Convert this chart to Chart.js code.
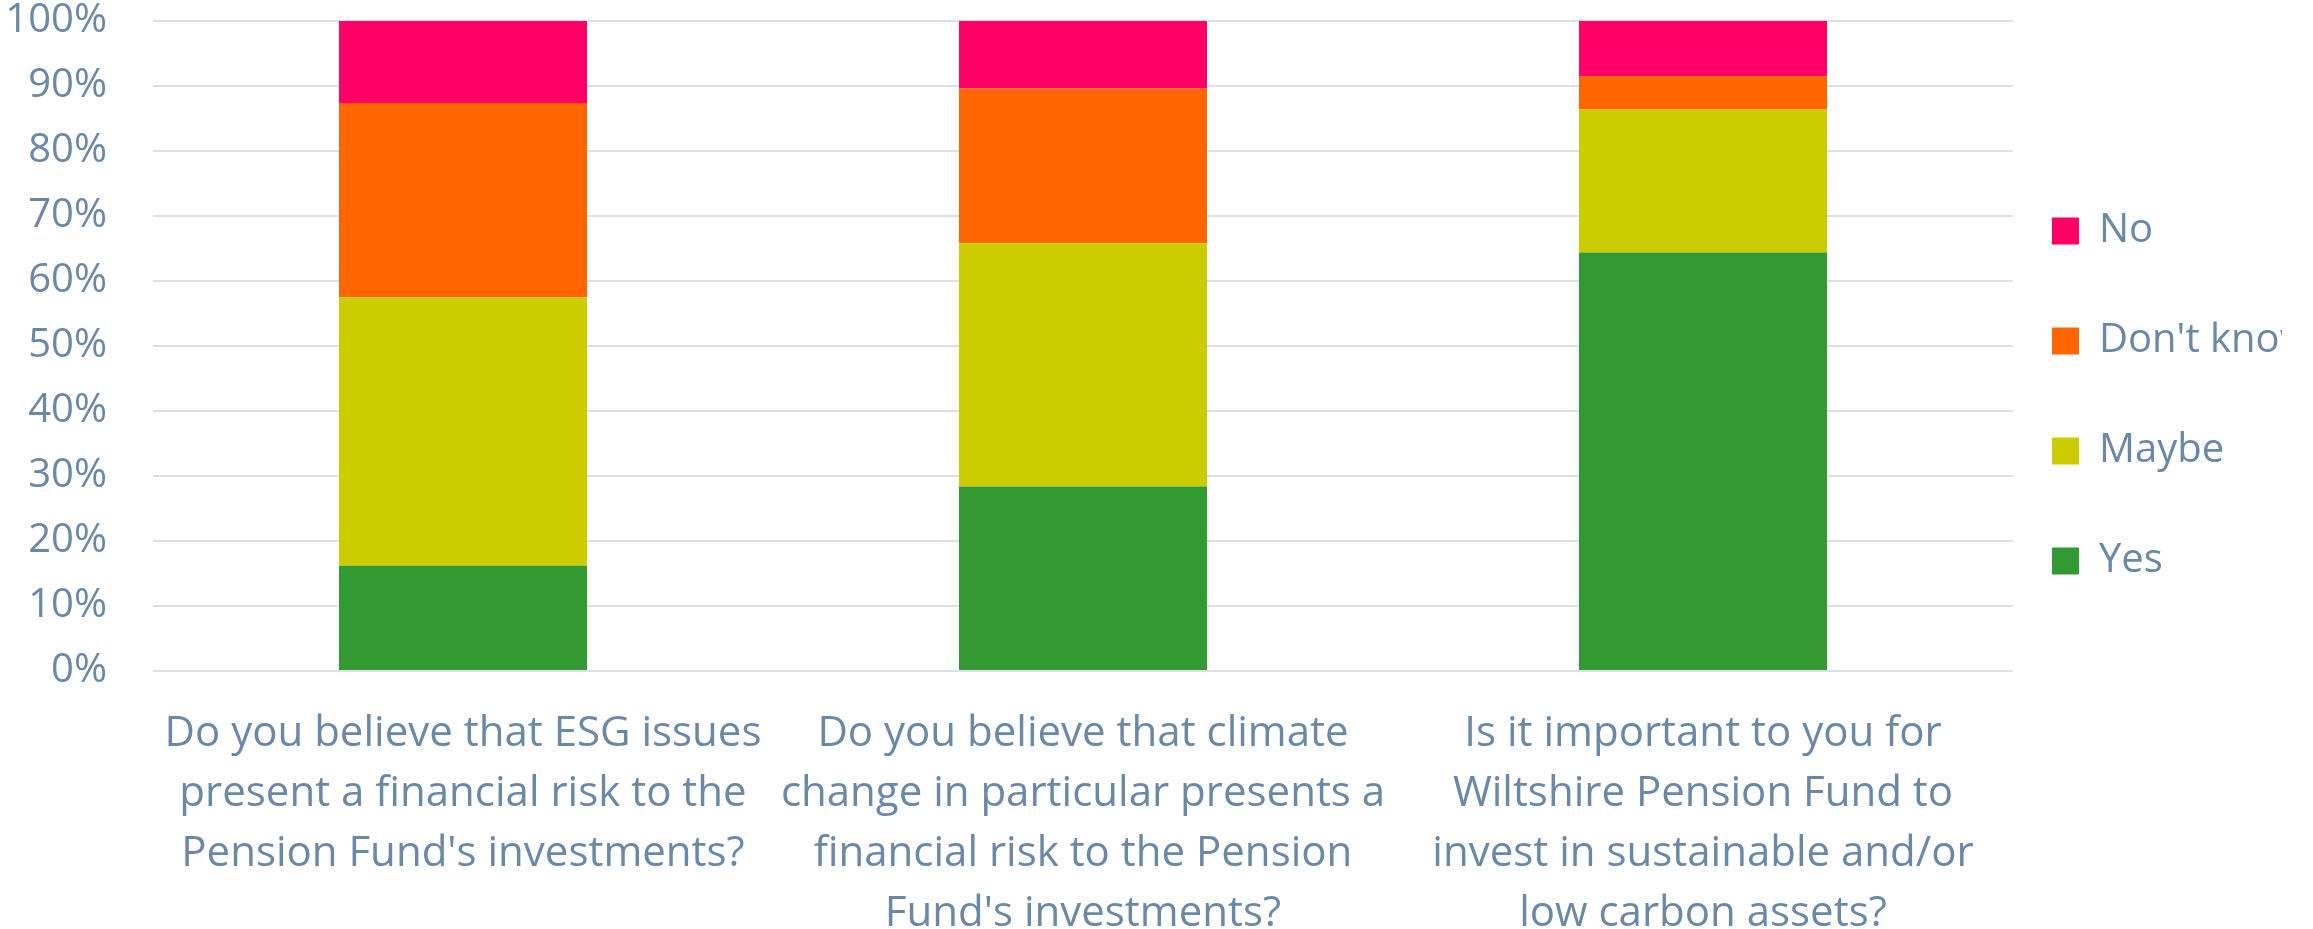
<!DOCTYPE html>
<html>
<head>
<meta charset="utf-8">
<script src="https://cdn.jsdelivr.net/npm/chart.js@4/dist/chart.umd.min.js"></script>
<style>
  html, body { margin: 0; padding: 0; background: #fff; overflow: hidden; }
  #wrap { width: 2313px; height: 929px; position: relative; }
</style>
</head>
<body>
<div id="wrap"><canvas id="surveyChart"></canvas></div>
<script>
// --- Data ---
const questions = [
    ['Do you believe that ESG issues', 'present a financial risk to the', "Pension Fund's investments?"],
    ['Do you believe that climate', 'change in particular presents a', 'financial risk to the Pension', "Fund's investments?"],
    ['Is it important to you for', 'Wiltshire Pension Fund to', 'invest in sustainable and/or', 'low carbon assets?']
];
const yesValues = [16.2, 28.4, 64.4];
const maybeValues = [41.3, 37.4, 22.0];
const dontKnowValues = [29.9, 23.8, 5.1];
const noValues = [12.6, 10.4, 8.5];
const yTicks = [0, 10, 20, 30, 40, 50, 60, 70, 80, 90, 100];

// --- Styles ---
const textColor = '#6A88A8';
const gridColor = '#DCE1E9';
const fontFamily = '"Open Sans", Lato, sans-serif';

// Legend sits a bit closer to the plot than Chart.js would put it
const legendPlacer = {
    id: 'legendPlacer',
    afterLayout(chart) {
        const lg = chart.legend;
        const pad = lg.options.labels.padding;
        const dx = (chart.chartArea.right + 39) - (lg.left + pad);
        lg.left += dx;
        lg.right += dx;
        lg.top = 211 - pad;
    }
};

const ctx = document.getElementById('surveyChart').getContext('2d');
new Chart(ctx, {
    type: 'bar',
    data: {
        labels: questions,
        datasets: [
            { label: 'Yes', data: yesValues, backgroundColor: '#339933' },
            { label: 'Maybe', data: maybeValues, backgroundColor: '#CCCC00' },
            { label: "Don't know", data: dontKnowValues, backgroundColor: '#FF6600' },
            { label: 'No', data: noValues, backgroundColor: '#FF0066' }
        ]
    },
    options: {
        responsive: true,
        maintainAspectRatio: false,
        animation: false,
        layout: { padding: { left: 0, top: 21, right: 0, bottom: 0 } },
        datasets: { bar: { categoryPercentage: 1.0, barPercentage: 0.4 } },
        scales: {
            x: {
                stacked: true,
                grid: { display: false, drawTicks: false },
                border: { display: false },
                afterFit: (scale) => {
                    scale.height = 258;
                    scale.paddingLeft = 0;
                    scale.paddingRight = 0;
                },
                ticks: {
                    color: textColor,
                    padding: 33,
                    maxRotation: 0,
                    autoSkip: false,
                    font: { family: fontFamily, size: 42, lineHeight: 1.43 }
                }
            },
            y: {
                stacked: true,
                min: 0,
                max: 100,
                afterBuildTicks: (axis) => { axis.ticks = yTicks.map(v => ({ value: v })); },
                afterFit: (scale) => {
                    scale.width = 153;
                    scale.paddingTop = 0;
                    scale.paddingBottom = 0;
                },
                grid: { color: gridColor, lineWidth: 2, drawTicks: false },
                border: { display: false },
                ticks: {
                    color: textColor,
                    padding: 46,
                    font: { family: fontFamily, size: 40 },
                    callback: (v) => v + '%'
                }
            }
        },
        plugins: {
            tooltip: { enabled: false },
            legend: {
                position: 'right',
                align: 'start',
                reverse: true,
                maxWidth: 300,
                labels: {
                    color: textColor,
                    boxWidth: 27,
                    boxHeight: 27,
                    padding: 70,
                    font: { family: fontFamily, size: 40 }
                }
            }
        }
    },
    plugins: [legendPlacer]
});
</script>
</body>
</html>
